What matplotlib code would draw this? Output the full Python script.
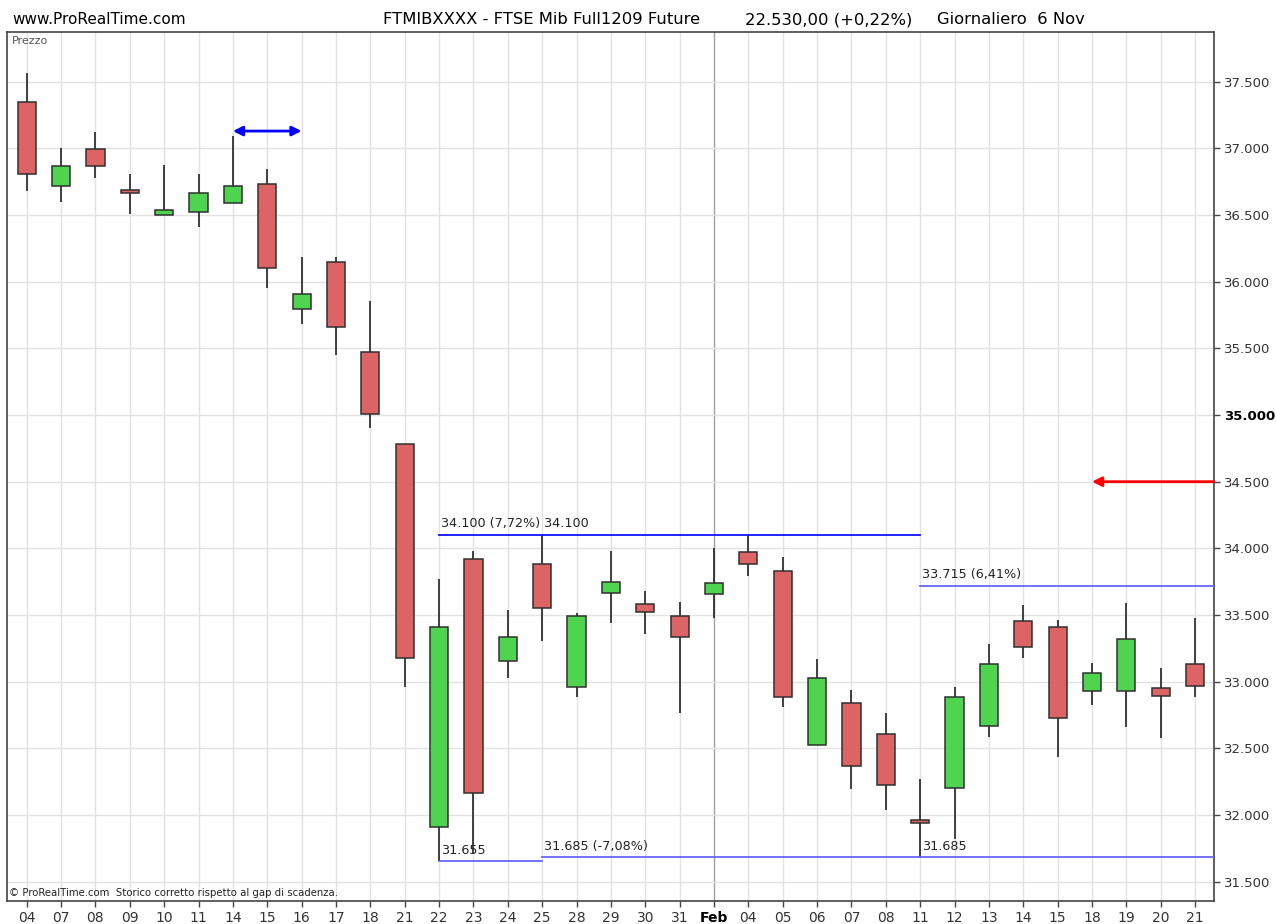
import numpy as np
import matplotlib
matplotlib.use("Agg")
from matplotlib import pyplot as plt

# daily candles
days = ["04", "07", "08", "09", "10", "11", "14", "15", "16", "17", "18", "21",
        "22", "23", "24", "25", "28", "29", "30", "31", "Feb", "04", "05", "06",
        "07", "08", "11", "12", "13", "14", "15", "18", "19", "20", "21"]
opens = [37350, 36720, 36995, 36690, 36498, 36520, 36593, 36730, 35795, 36150, 35473, 34783,
         31908, 33920, 33158, 33880, 32958, 33665, 33583, 33493, 33658, 33975, 33833, 32525,
         32843, 32605, 31960, 32200, 32668, 33455, 33408, 32933, 32933, 32950, 33133]
highs = [37563, 37000, 37120, 36805, 36878, 36805, 37093, 36845, 36185, 36183, 35855, 34783,
         33770, 33980, 33538, 34100, 33513, 33980, 33683, 33595, 34000, 34100, 33933, 33168,
         32938, 32768, 32270, 32963, 33283, 33573, 33460, 33143, 33588, 33100, 33475]
lows = [36680, 36595, 36775, 36510, 36498, 36412, 36590, 35953, 35680, 35448, 34900, 32963,
        31655, 31715, 33025, 33308, 32883, 33438, 33355, 32768, 33475, 33795, 32808, 32525,
        32193, 32038, 31685, 31818, 32583, 33178, 32438, 32823, 32663, 32575, 32888]
closes = [36810, 36868, 36865, 36665, 36535, 36665, 36720, 36100, 35908, 35658, 35008, 33180,
          33408, 32163, 33333, 33550, 33495, 33750, 33520, 33335, 33743, 33883, 32888, 33030,
          32370, 32225, 31938, 32885, 33133, 33260, 32725, 33063, 33318, 32893, 32970]

yticks = [31500, 32000, 32500, 33000, 33500, 34000, 34500, 35000, 35500, 36000, 36500, 37000, 37500]

top_level, top_label = 34100, "34.100 (7,72%) 34.100"
low1_level, low1_label = 31655, "31.655"
low2_level, low2_label = 31685, "31.685 (-7,08%)"
low3_label = "31.685"
mid_level, mid_label = 33715, "33.715 (6,41%)"
blue_arrow_level = 37130
red_arrow_level = 34500

RED = "#dd6464"
GREEN = "#4fd44f"

fig = plt.figure(figsize=(12.76, 9.24), dpi=100, facecolor="w")
ax = fig.add_axes([7 / 1276, (924 - 901) / 924, (1214 - 7) / 1276, (901 - 32) / 924])

x = np.arange(len(days))
o = np.array(opens)
c = np.array(closes)
h = np.array(highs)
l = np.array(lows)

ax.set_xlim(-0.573, 34.55)
ax.set_ylim(31355, 37873)

# grid
for xi in x:
    col = "#a0a0a0" if days[xi] == "Feb" else "#e2e2e2"
    ax.axvline(xi, color=col, lw=1, zorder=0)
for yv in yticks:
    ax.axhline(yv, color="#e2e2e2", lw=1, zorder=0)

# wicks + bodies
ax.vlines(x, l, h, color="#222222", lw=1.2, zorder=2)
colors = [GREEN if cc >= oo else RED for oo, cc in zip(o, c)]
ax.bar(x, np.abs(c - o), bottom=np.minimum(o, c), width=0.53, color=colors,
       edgecolor="#303030", linewidth=1.1, zorder=3)

# support / resistance lines
right = ax.get_xlim()[1]
fs = 9.2
ax.plot([12, 26], [top_level, top_level], color="#1010ff", lw=1.3, zorder=4)
ax.text(12.05, top_level + 40, top_label, fontsize=fs, color="#222222", va="bottom", ha="left")
ax.plot([12, 15], [low1_level, low1_level], color="#5a5aff", lw=1.2, zorder=4)
ax.text(12.05, low1_level + 30, low1_label, fontsize=fs, color="#222222", va="bottom", ha="left")
ax.plot([15, right], [low2_level, low2_level], color="#5a5aff", lw=1.2, zorder=4)
ax.text(15.05, low2_level + 30, low2_label, fontsize=fs, color="#222222", va="bottom", ha="left")
ax.text(26.05, low2_level + 30, low3_label, fontsize=fs, color="#222222", va="bottom", ha="left")
ax.plot([26, right], [mid_level, mid_level], color="#5a5aff", lw=1.2, zorder=4)
ax.text(26.05, mid_level + 40, mid_label, fontsize=fs, color="#222222", va="bottom", ha="left")

# arrows
ax.annotate("", xy=(6, blue_arrow_level), xytext=(8, blue_arrow_level),
            arrowprops=dict(arrowstyle="<|-|>", color="#0000ff", lw=2, mutation_scale=14,
                            shrinkA=0, shrinkB=0), zorder=5)
ax.annotate("", xy=(31, red_arrow_level), xytext=(right, red_arrow_level),
            arrowprops=dict(arrowstyle="-|>", color="#ff0000", lw=2, mutation_scale=14,
                            shrinkA=0, shrinkB=0), zorder=5)

# axes styling
for s in ["top", "left", "right", "bottom"]:
    ax.spines[s].set_color("#444444")
    ax.spines[s].set_linewidth(1.2)
ax.yaxis.tick_right()
ax.set_yticks(yticks)
ax.set_yticklabels([f"{v:,}".replace(",", ".") for v in yticks], fontsize=9.5, color="#333333")
for lab in ax.get_yticklabels():
    if lab.get_text() == "35.000":
        lab.set_fontweight("bold")
        lab.set_color("black")
ax.set_xticks(x)
ax.set_xticklabels(days, fontsize=10, color="#333333")
for lab in ax.get_xticklabels():
    if lab.get_text() == "Feb":
        lab.set_fontweight("bold")
        lab.set_color("black")
ax.tick_params(axis="both", direction="out", length=4, width=1, color="#444444", pad=3)

ax.text(0.004, 0.995, "Prezzo", transform=ax.transAxes, fontsize=8, color="#555555", va="top", ha="left")
ax.text(0.002, 0.004, "© ProRealTime.com  Storico corretto rispetto al gap di scadenza.",
        transform=ax.transAxes, fontsize=7.3, color="#222222", va="bottom", ha="left")

ty = 1 - 20 / 924
fig.text(12 / 1276, ty, "www.ProRealTime.com", fontsize=11, color="black", va="center", ha="left")
fig.text(383 / 1276, ty, "FTMIBXXXX - FTSE Mib Full1209 Future", fontsize=11.8,
         color="black", va="center", ha="left")
fig.text(745 / 1276, ty, "22.530,00 (+0,22%)", fontsize=11.8, color="black", va="center", ha="left")
fig.text(937 / 1276, ty, "Giornaliero  6 Nov", fontsize=11.8, color="black", va="center", ha="left")

fig.savefig("out.png", dpi=100, facecolor="w")
plt.close(fig)
